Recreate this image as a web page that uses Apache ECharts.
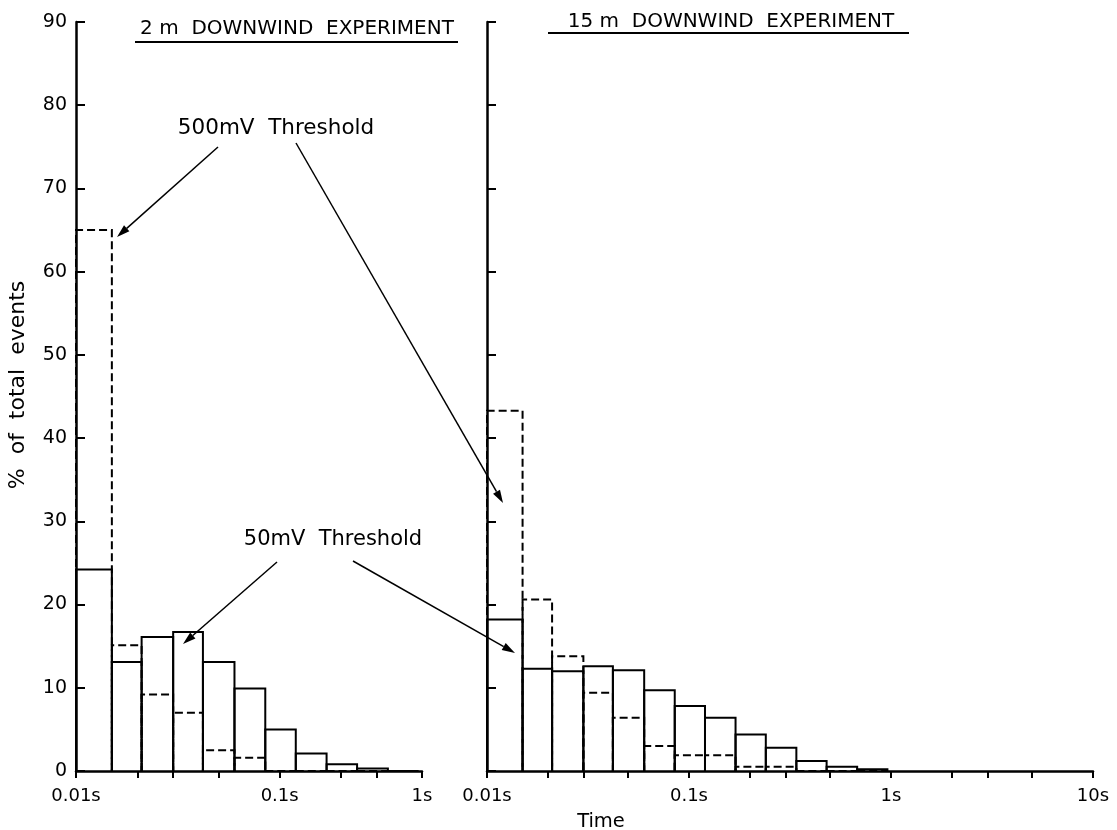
<!DOCTYPE html>
<html><head><meta charset="utf-8">
<script src="https://cdn.jsdelivr.net/npm/echarts@6/dist/echarts.min.js"></script>
<style>html,body{margin:0;padding:0;background:#fff}#c{width:1117px;height:830px}</style>
</head><body><div id="c"></div>
<script>
// ---- data ----
const binEdges = [0.01, 0.015, 0.021, 0.03, 0.042, 0.06, 0.085, 0.12, 0.17, 0.24, 0.34, 0.48, 0.68, 0.96, 1.36];
const left50mV  = [24.2, 13.1, 16.1, 16.7, 13.1, 9.9, 5.0, 2.1, 0.8, 0.3, 0];
const left500mV = [65.0, 15.1, 9.2, 7.0, 2.5, 1.6, 0, 0, 0, 0, 0];
const right50mV  = [18.2, 12.3, 12.0, 12.6, 12.1, 9.7, 7.8, 6.4, 4.4, 2.8, 1.2, 0.5, 0.2];
const right500mV = [43.3, 20.6, 13.8, 9.4, 6.4, 3.0, 1.9, 1.9, 0.5, 0.5, 0, 0, 0];
const yTickValues = [0, 10, 20, 30, 40, 50, 60, 70, 80, 90];
const leftTimeTicks = [0.01, 0.02, 0.03, 0.05, 0.1, 0.2, 0.3, 0.5];
const leftTimeLabelAt = [0.01, 0.1, 0.5];
const leftTimeLabels = ['0.01s', '0.1s', '1s'];
const rightTimeTicks = [0.01, 0.02, 0.03, 0.05, 0.1, 0.2, 0.3, 0.5, 1, 2, 3, 5, 10];
const rightTimeLabelAt = [0.01, 0.1, 1, 10];
const rightTimeLabels = ['0.01s', '0.1s', '1s', '10s'];
const panelTitles = ['2 m  DOWNWIND  EXPERIMENT', '15 m  DOWNWIND  EXPERIMENT'];
const annotationTexts = ['500mV  Threshold', '50mV  Threshold'];
const yAxisName = '%  of  total  events';
const xAxisName = 'Time';

// ---- helpers ----
const lg = Math.log10;
function bins(values) {
  return values.map((v, i) => [lg(binEdges[i]), lg(binEdges[i + 1]), v]);
}
function labelFormatter(at, labels) {
  return function (val) {
    let best = 0, bd = Infinity;
    at.forEach((a, i) => { const d = Math.abs(lg(a) - val); if (d < bd) { bd = d; best = i; } });
    return labels[best];
  };
}
function renderBar(dashed) {
  return function (params, api) {
    const x0 = api.value(0), x1 = api.value(1), v = api.value(2);
    const pts = [api.coord([x0, 0]), api.coord([x0, v]), api.coord([x1, v]), api.coord([x1, 0])];
    return {
      type: 'polyline',
      shape: { points: pts },
      style: { fill: null, stroke: '#000', lineWidth: 2, lineDash: dashed ? [8, 4] : null }
    };
  };
}
const FONT = 'DejaVu Sans';
function xAxis(gridIndex, maxT, ticks, labAt, labs) {
  return {
    type: 'value', gridIndex, min: -2, max: lg(maxT),
    axisLine: { onZero: false, lineStyle: { color: '#000', width: 2.5 } },
    axisTick: { show: true, inside: false, length: 7, lineStyle: { color: '#000', width: 2 },
      customValues: ticks.map(lg) },
    axisLabel: { show: true, customValues: labAt.map(lg), formatter: labelFormatter(labAt, labs),
      color: '#000', fontSize: 18, fontFamily: FONT, margin: 16 },
    splitLine: { show: false }
  };
}
function yAxis(gridIndex, showLabels) {
  return {
    type: 'value', gridIndex, min: 0, max: 90, interval: 10,
    axisLine: { show: true, onZero: false, lineStyle: { color: '#000', width: 2.5 } },
    axisTick: { show: true, inside: true, length: 9, lineStyle: { color: '#000', width: 2 } },
    axisLabel: { show: showLabels, color: '#000', fontSize: 19, fontFamily: FONT, margin: 9 },
    splitLine: { show: false }
  };
}
function arrow(x1, y1, x2, y2) {
  const ang = Math.atan2(y2 - y1, x2 - x1);
  const L = 13, W = 4;
  const bx = x2 - L * Math.cos(ang), by = y2 - L * Math.sin(ang);
  const nx = -Math.sin(ang) * W, ny = Math.cos(ang) * W;
  return [
    { type: 'line', shape: { x1, y1, x2: bx, y2: by }, style: { stroke: '#000', lineWidth: 1.5 } },
    { type: 'polygon', shape: { points: [[x2, y2], [bx + nx, by + ny], [bx - nx, by - ny]] }, style: { fill: '#000' } }
  ];
}
function text(str, x, y, size, extra) {
  return Object.assign({ type: 'text', x, y,
    style: { text: str, fill: '#000', font: size + 'px "' + FONT + '"', textAlign: 'center', textVerticalAlign: 'middle' } }, extra || {});
}
function hline(x1, x2, y) {
  return { type: 'line', shape: { x1, y1: y, x2, y2: y }, style: { stroke: '#000', lineWidth: 1.8 } };
}

const chart = echarts.init(document.getElementById('c'), null, { renderer: 'canvas' });
chart.setOption({
  backgroundColor: '#fff',
  animation: false,
  grid: [
    { left: 76, top: 22, width: 346, height: 749 },
    { left: 487, top: 22, width: 606, height: 749 }
  ],
  xAxis: [
    xAxis(0, 0.5, leftTimeTicks, leftTimeLabelAt, leftTimeLabels),
    xAxis(1, 10, rightTimeTicks, rightTimeLabelAt, rightTimeLabels)
  ],
  yAxis: [yAxis(0, true), yAxis(1, false)],
  series: [
    { type: 'custom', name: '500mV 2m', xAxisIndex: 0, yAxisIndex: 0, renderItem: renderBar(true), data: bins(left500mV), encode: { x: [0, 1], y: 2 }, z: 2 },
    { type: 'custom', name: '50mV 2m', xAxisIndex: 0, yAxisIndex: 0, renderItem: renderBar(false), data: bins(left50mV), encode: { x: [0, 1], y: 2 }, z: 3 },
    { type: 'custom', name: '500mV 15m', xAxisIndex: 1, yAxisIndex: 1, renderItem: renderBar(true), data: bins(right500mV), encode: { x: [0, 1], y: 2 }, z: 2 },
    { type: 'custom', name: '50mV 15m', xAxisIndex: 1, yAxisIndex: 1, renderItem: renderBar(false), data: bins(right50mV), encode: { x: [0, 1], y: 2 }, z: 3 }
  ],
  graphic: [].concat(
    [text(panelTitles[0], 297, 29, 20), hline(135, 458, 42),
     text(panelTitles[1], 731, 22, 20), hline(548, 909, 33),
     text(annotationTexts[0], 276, 128, 21.5),
     text(annotationTexts[1], 333, 540, 21),
     text(xAxisName, 601, 822, 19.5),
     text(yAxisName, 18, 385, 22, { rotation: Math.PI / 2 })],
    arrow(218, 147, 117, 237),
    arrow(296, 143, 503, 503),
    arrow(277, 562, 183, 644),
    arrow(353, 561, 515, 653)
  )
});
</script>
</body></html>
